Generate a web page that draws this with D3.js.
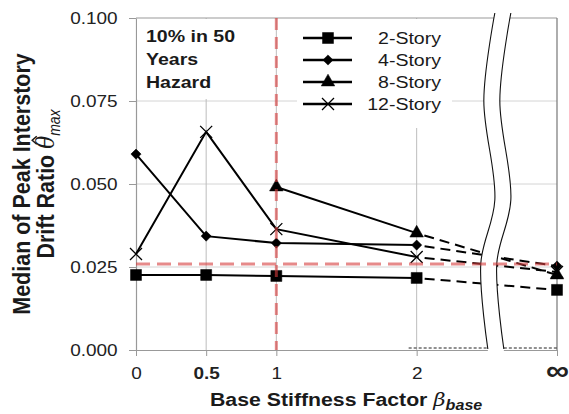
<!DOCTYPE html>
<html>
<head>
<meta charset="utf-8">
<script src="https://cdn.jsdelivr.net/npm/d3@7"></script>
<style>
  body { margin: 0; background: #fff; }
  svg { display: block; }
</style>
</head>
<body>
<div id="chart"></div>
<script>
// Chart data
const xKeys = [0, 0.5, 1, 2, 3];             // 3 stands in for "infinity"
const xTickLabels = ['0', '0.5', '1', '2', '\u221E'];
const yTicks = [0, 0.025, 0.05, 0.075, 0.1];
const seriesNames = ['2-Story', '4-Story', '8-Story', '12-Story'];
const story2 = [0.0226, 0.0226, 0.0223, 0.0217, 0.0181];
const story4 = [0.0590, 0.0343, 0.0322, 0.0316, 0.0253];
const story8 = [null, null, 0.0491, 0.0352, 0.0226];
const story12 = [0.0289, 0.0657, 0.0364, 0.0280, 0.0235];
const refDrift = 0.0259;
const refBeta = 1;
const hazardLines = ['10% in 50', 'Years', 'Hazard'];

const W = 569, H = 414;
const SX = 1.15;   // text in the picture is a bit wide
const FONT = '"Liberation Sans", Arial, sans-serif';
const RED = 'rgb(214,60,60)';

const x = d3.scaleLinear().domain([0, 3]).range([136, 557]);
const y = d3.scaleLinear().domain([0, 0.1]).range([350, 18]);

const svg = d3.select('#chart').append('svg')
    .attr('width', W)
    .attr('height', H)
    .style('font-family', FONT);

// stretched text helper
function addText(parent, str, tx, ty, opts) {
    const t = parent.append('text')
        .attr('transform', `translate(${tx},${ty}) scale(${SX},1)` + (opts.rotate ? ' rotate(-90)' : ''))
        .attr('text-anchor', opts.anchor || 'start')
        .attr('font-size', opts.size)
        .attr('font-weight', opts.bold ? 'bold' : 'normal')
        .attr('fill', opts.fill || '#1a1a1a');
    if (str) t.text(str);
    return t;
}

// gridlines
svg.append('g').selectAll('line')
    .data(yTicks.slice(1, 4))
    .join('line')
    .attr('x1', x(0)).attr('x2', x(3))
    .attr('y1', d => y(d)).attr('y2', d => y(d))
    .attr('stroke', '#d4d4d4').attr('stroke-width', 1);

svg.append('g').selectAll('line')
    .data(xKeys.slice(1, 4))
    .join('line')
    .attr('x1', d => x(d)).attr('x2', d => x(d))
    .attr('y1', y(0.1)).attr('y2', y(0))
    .attr('stroke', '#bdbdbd').attr('stroke-width', 1);

// frame top and right
svg.append('line')
    .attr('x1', x(0)).attr('x2', x(3)).attr('y1', y(0.1)).attr('y2', y(0.1))
    .attr('stroke', '#999');
svg.append('line')
    .attr('x1', x(3)).attr('x2', x(3)).attr('y1', y(0.1)).attr('y2', y(0))
    .attr('stroke', '#777').attr('stroke-width', 1.2);

// axes
const yAxis = svg.append('g')
    .attr('transform', `translate(${x(0)},0)`)
    .call(d3.axisLeft(y).tickValues(yTicks).tickFormat(d3.format('.3f'))
        .tickSize(7).tickSizeOuter(0).tickPadding(9));
yAxis.selectAll('text')
    .attr('transform', `scale(${SX},1)`)
    .attr('font-size', 16.5).attr('font-family', FONT).attr('fill', '#222');

const xAxis = svg.append('g')
    .attr('transform', `translate(0,${y(0)})`)
    .call(d3.axisBottom(x).tickValues(xKeys).tickFormat((d, i) => xTickLabels[i])
        .tickSize(6).tickSizeOuter(0).tickPadding(11));
xAxis.selectAll('text')
    .attr('transform', `scale(${SX},1)`)
    .attr('font-size', 16.5).attr('font-family', FONT).attr('fill', '#222')
    .attr('font-weight', (d, i) => (i === 1 || i === 4) ? 'bold' : 'normal');
xAxis.selectAll('.tick').filter((d, i) => i === 4).select('text')
    .attr('font-size', 28).attr('dy', '0.45em');

svg.selectAll('.domain').attr('stroke', '#999').attr('stroke-width', 1.2);
svg.selectAll('.tick line').attr('stroke', '#999');

// white boxes behind the annotation and legend
svg.append('rect').attr('x', 137).attr('y', 19).attr('width', 105).attr('height', 80).attr('fill', '#fff');
svg.append('rect').attr('x', 297).attr('y', 19).attr('width', 155).attr('height', 109).attr('fill', '#fff');

// series
const symSquare = d3.symbol(d3.symbolSquare, 121)();
const symDiamond = d3.symbol(d3.symbolSquare, 52)();
const symTriangle = d3.symbol(d3.symbolTriangle, 80)();
const symX = 'M-6,-6L6,6M-6,6L6,-6';

const series = [story2, story4, story8, story12].map((vals, i) => ({
    name: seriesNames[i],
    points: vals.map((v, j) => ({ k: xKeys[j], v: v })),
    path: [symSquare, symDiamond, symTriangle, symX][i],
    rot: i === 1 ? 45 : 0,
    cross: i === 3
}));

const line = d3.line()
    .defined(d => d.v != null)
    .x(d => x(d.k))
    .y(d => y(d.v));

const dataG = svg.append('g');
series.forEach(s => {
    dataG.append('path')
        .attr('d', line(s.points.slice(0, 4)))
        .attr('fill', 'none').attr('stroke', '#000').attr('stroke-width', 2);
    dataG.append('path')
        .attr('d', line(s.points.slice(3, 5)))
        .attr('fill', 'none').attr('stroke', '#000').attr('stroke-width', 2)
        .attr('stroke-dasharray', '10,6').attr('stroke-dashoffset', -8);
});

function drawMarker(g, s, cx, cy) {
    g.append('path')
        .attr('d', s.path)
        .attr('transform', `translate(${cx},${cy}) rotate(${s.rot})`)
        .attr('fill', s.cross ? 'none' : '#000')
        .attr('stroke', '#000')
        .attr('stroke-width', s.cross ? 1.3 : 0.5);
}

series.forEach(s => {
    s.points.filter(d => d.v != null).forEach(d => drawMarker(dataG, s, x(d.k), y(d.v)));
});

// axis break
const breakX = x(2.5);
const gap = 16;
const wave = [[8, 13], [-3, 100], [8, 200], [-6, 263], [1, 349]];
const area = d3.area()
    .curve(d3.curveCatmullRom)
    .y(d => d[1])
    .x0(d => breakX + d[0])
    .x1(d => breakX + d[0] + gap);
svg.append('path')
    .attr('d', area(wave.concat([[1, 353]])))
    .attr('fill', '#fff');
[0, gap].forEach(off => {
    svg.append('path')
        .attr('d', d3.line().curve(d3.curveCatmullRom)
            .x(d => breakX + d[0] + off).y(d => d[1])(wave))
        .attr('fill', 'none').attr('stroke', '#111').attr('stroke-width', 1.1);
});
svg.append('line')
    .attr('x1', x(2) - 8).attr('x2', breakX + 1).attr('y1', 348).attr('y2', 348)
    .attr('stroke', '#222').attr('stroke-dasharray', '3,2');
svg.append('line')
    .attr('x1', breakX + 1 + gap).attr('x2', x(3)).attr('y1', 348).attr('y2', 348)
    .attr('stroke', '#222').attr('stroke-dasharray', '3,2');

// reference lines
svg.append('line')
    .attr('x1', x(0)).attr('x2', x(3)).attr('y1', y(refDrift)).attr('y2', y(refDrift))
    .attr('stroke', RED).attr('stroke-opacity', 0.6).attr('stroke-width', 3)
    .attr('stroke-dasharray', '14,7');
svg.append('line')
    .attr('x1', x(refBeta)).attr('x2', x(refBeta)).attr('y1', y(0.1)).attr('y2', y(0))
    .attr('stroke', RED).attr('stroke-opacity', 0.6).attr('stroke-width', 3)
    .attr('stroke-dasharray', '12,7');

// hazard note
hazardLines.forEach((t, i) => {
    addText(svg, t, 146, 42 + i * 23, { size: 17, bold: true });
});

// legend
series.forEach((s, i) => {
    const ly = 38 + i * 22;
    svg.append('line')
        .attr('x1', 303).attr('x2', 352).attr('y1', ly).attr('y2', ly)
        .attr('stroke', '#000').attr('stroke-width', 2.5);
    drawMarker(svg, s, 328, ly);
    addText(svg, s.name, 441, ly + 6, { size: 17, anchor: 'end' });
});

// y axis title
addText(svg, 'Median of Peak Interstory', 30, 184, { size: 21.5, bold: true, anchor: 'middle', rotate: true });
const yt2g = svg.append('g')
    .attr('transform', `translate(54,184) scale(${SX},1) rotate(-90)`);
const yt2 = yt2g.append('text')
    .attr('text-anchor', 'middle')
    .attr('font-size', 21.5)
    .attr('font-weight', 'bold')
    .attr('fill', '#1a1a1a');
const yPre = 'Drift Ratio ';
yt2.append('tspan').text(yPre);
yt2.append('tspan').text('\u03B8')
    .attr('font-family', '"DejaVu Serif", serif').attr('font-style', 'italic').attr('font-weight', 'normal');
yt2.append('tspan').text('max')
    .attr('font-style', 'italic').attr('font-weight', 'normal').attr('font-size', 14)
    .attr('dy', 5);
// hat over theta
const tNode = yt2.node();
const th0 = tNode.getStartPositionOfChar(yPre.length);
const th1 = tNode.getEndPositionOfChar(yPre.length);
const hx = (th0.x + th1.x) / 2 + 2;
const hy = th0.y - 18;
yt2g.append('path')
    .attr('d', `M${hx - 4},${hy + 3}L${hx},${hy - 1}L${hx + 4},${hy + 3}`)
    .attr('fill', 'none').attr('stroke', '#1a1a1a').attr('stroke-width', 1.3);

// x axis title
const xt = addText(svg, null, 210, 406, { size: 18.5, bold: true });
xt.append('tspan').text('Base Stiffness Factor ');
xt.append('tspan').text('\u03B2')
    .attr('font-family', '"DejaVu Serif", serif').attr('font-style', 'italic').attr('font-weight', 'normal');
xt.append('tspan').text('base')
    .attr('font-style', 'italic').attr('font-size', 14).attr('dy', 4);
</script>
</body>
</html>
